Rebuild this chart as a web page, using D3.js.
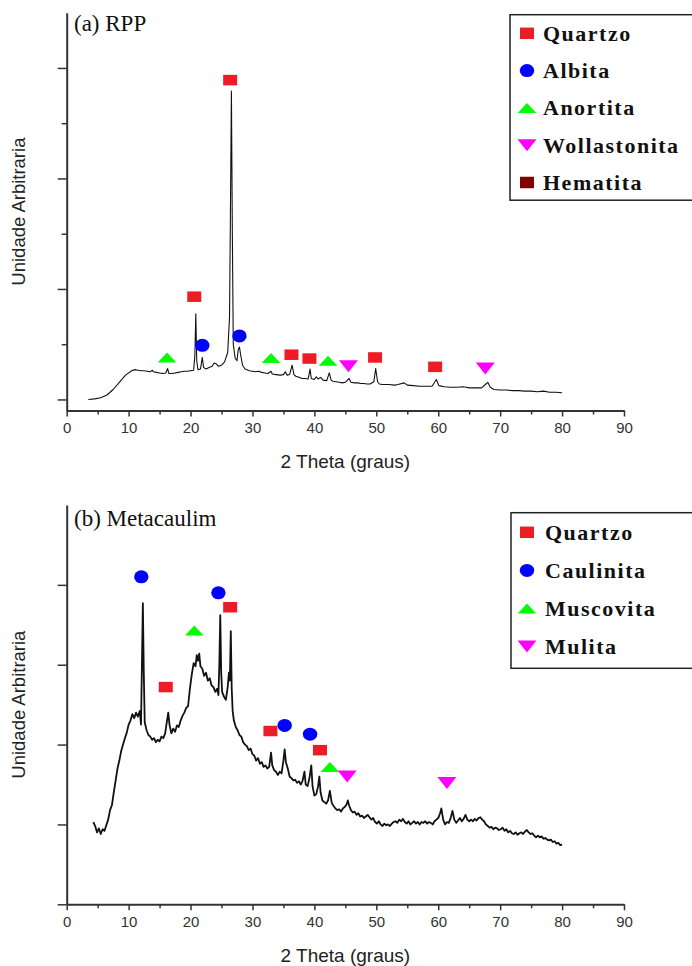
<!DOCTYPE html>
<html>
<head>
<meta charset="utf-8">
<script src="https://cdn.jsdelivr.net/npm/d3@7/dist/d3.min.js"></script>
<style>
body { margin: 0; background: #fff; }
svg { display: block; }
.tick text { font-family: "Liberation Sans", Arial, sans-serif; }
</style>
</head>
<body>
<div id="chart"></div>
<script>
// x ticks (2 theta, degrees)
var xTicks = [0, 10, 20, 30, 40, 50, 60, 70, 80, 90];
var xMinor = [5, 15, 25, 35, 45, 55, 65, 75, 85];

// (a) RPP pattern: [2theta, intensity (arb.)]
var rppData = [
  [3.5,0.00],[4.5,0.01],[5.5,0.03],[6.5,0.08],[7.5,0.18],[8.5,0.31],[9.5,0.44],[10.5,0.52],
  [11,0.54],[11.5,0.53],[12,0.52],[12.5,0.52],[13,0.51],[13.5,0.50],[13.8,0.53],[14,0.50],
  [14.5,0.49],[15,0.48],[15.5,0.47],[16,0.48],[16.3,0.56],[16.5,0.47],[17,0.47],[17.5,0.48],
  [18,0.49],[18.5,0.50],[19,0.51],[19.5,0.51],[20,0.52],[20.5,0.53],[20.7,0.80],[20.85,1.55],
  [21.0,0.70],[21.2,0.54],[21.6,0.55],[21.9,0.76],[22.1,0.58],[22.5,0.55],[23,0.58],[23.5,0.60],
  [23.8,0.66],[24.2,0.64],[24.5,0.60],[25,0.62],[25.5,0.68],[26.0,0.85],[26.3,1.5],[26.45,3.5],
  [26.6,5.58],[26.75,3.0],[26.9,1.0],[27.2,0.75],[27.5,0.70],[27.7,0.90],[27.9,0.95],[28.1,0.80],
  [28.4,0.62],[28.8,0.55],[29.5,0.52],[30,0.51],[30.5,0.50],[31,0.51],[31.5,0.49],[32,0.48],
  [32.5,0.47],[33,0.51],[33.2,0.46],[33.8,0.45],[34.5,0.44],[35,0.45],[35.3,0.50],[35.6,0.44],
  [36,0.45],[36.4,0.62],[36.7,0.45],[37,0.42],[37.5,0.40],[38,0.38],[38.5,0.38],[39,0.37],
  [39.3,0.55],[39.5,0.38],[40,0.36],[40.3,0.41],[40.6,0.37],[41,0.40],[41.4,0.35],[42,0.34],
  [42.4,0.48],[42.7,0.35],[43,0.33],[43.5,0.32],[44,0.31],[44.5,0.30],[45,0.31],[45.6,0.38],
  [45.9,0.31],[46.5,0.30],[47,0.30],[47.5,0.29],[48,0.29],[48.5,0.28],[49,0.28],[49.6,0.32],
  [49.9,0.56],[50.2,0.32],[50.5,0.28],[51,0.27],[52,0.27],[53,0.26],[53.5,0.27],[54.5,0.30],
  [55,0.26],[56,0.25],[57,0.24],[58,0.24],[59,0.24],[59.7,0.36],[60.1,0.25],[61,0.23],
  [62,0.22],[63,0.22],[64,0.23],[64.5,0.22],[65,0.21],[66,0.21],[67,0.21],[67.7,0.28],
  [68,0.31],[68.4,0.22],[69,0.18],[70,0.17],[71,0.17],[72,0.16],[73,0.16],[74,0.15],
  [75,0.15],[76,0.14],[77,0.15],[78,0.13],[79,0.13],[80,0.12]
];

// (b) Metacaulim pattern
var metaData = [
  [4.3,1.03],[4.6,0.98],[4.9,0.90],[5.2,0.95],[5.5,0.88],[5.8,0.94],[6.1,0.92],[6.4,0.99],
  [6.7,1.06],[7.0,1.18],[7.3,1.24],[7.6,1.40],[7.9,1.55],[8.2,1.70],[8.5,1.80],[8.8,1.92],
  [9.1,2.00],[9.4,2.08],[9.7,2.15],[10.0,2.25],[10.3,2.30],[10.6,2.38],[10.9,2.33],[11.2,2.40],
  [11.5,2.35],[11.8,2.42],[12.0,2.25],[12.15,3.0],[12.3,3.77],[12.45,2.9],[12.6,2.28],[12.9,2.18],
  [13.2,2.12],[13.5,2.10],[13.8,2.06],[14.1,2.08],[14.4,2.03],[14.7,2.06],[15.0,2.04],[15.3,2.10],
  [15.6,2.08],[15.9,2.14],[16.2,2.30],[16.4,2.40],[16.6,2.25],[16.9,2.14],[17.2,2.20],[17.5,2.16],
  [17.8,2.24],[18.1,2.22],[18.4,2.30],[18.7,2.36],[19.0,2.40],[19.3,2.46],[19.6,2.48],[19.9,2.70],
  [20.2,2.88],[20.5,3.02],[20.8,2.98],[21.0,3.12],[21.2,3.05],[21.4,3.14],[21.6,2.98],[21.9,2.95],
  [22.2,2.86],[22.5,2.90],[22.8,2.80],[23.1,2.83],[23.4,2.74],[23.7,2.72],[24.0,2.66],[24.3,2.70],
  [24.5,2.62],[24.65,3.0],[24.8,3.62],[24.95,2.9],[25.1,2.66],[25.4,2.60],[25.7,2.56],[26.0,2.72],
  [26.2,2.90],[26.35,2.80],[26.5,3.42],[26.65,2.70],[26.8,2.42],[27.0,2.30],[27.3,2.22],[27.6,2.18],
  [27.9,2.12],[28.2,2.10],[28.5,2.03],[28.8,2.00],[29.1,1.98],[29.4,1.93],[29.7,1.95],[30.0,1.88],
  [30.3,1.86],[30.6,1.80],[30.9,1.83],[31.2,1.76],[31.5,1.78],[31.8,1.72],[32.1,1.74],[32.4,1.70],
  [32.7,1.72],[33.0,1.90],[33.2,1.74],[33.5,1.68],[33.8,1.66],[34.1,1.62],[34.4,1.66],[34.7,1.64],
  [35.0,1.80],[35.2,1.94],[35.4,1.78],[35.7,1.70],[36.0,1.60],[36.3,1.58],[36.6,1.55],[36.9,1.56],
  [37.2,1.52],[37.5,1.54],[37.8,1.50],[38.1,1.55],[38.4,1.66],[38.6,1.50],[38.9,1.48],[39.2,1.58],
  [39.5,1.74],[39.7,1.48],[40.0,1.36],[40.3,1.38],[40.6,1.48],[40.8,1.60],[41.0,1.40],[41.3,1.30],
  [41.6,1.28],[41.9,1.26],[42.2,1.30],[42.5,1.42],[42.8,1.27],[43.1,1.23],[43.4,1.20],[43.7,1.18],
  [44.0,1.19],[44.3,1.16],[44.6,1.20],[44.9,1.22],[45.2,1.25],[45.4,1.30],[45.6,1.24],[45.9,1.18],
  [46.2,1.15],[46.5,1.16],[46.8,1.12],[47.1,1.14],[47.4,1.10],[47.7,1.11],[48.0,1.08],[48.3,1.10],
  [48.6,1.12],[48.9,1.09],[49.2,1.06],[49.5,1.08],[49.8,1.03],[50.1,1.01],[50.4,1.04],[50.7,1.00],
  [51.0,0.98],[51.3,1.01],[51.6,0.99],[51.9,1.00],[52.2,0.98],[52.5,1.01],[52.8,1.03],[53.1,1.04],
  [53.4,1.02],[53.7,1.06],[54.0,1.04],[54.3,1.07],[54.6,1.03],[54.9,1.01],[55.2,1.04],[55.5,1.00],
  [55.8,1.02],[56.1,1.04],[56.4,1.01],[56.7,1.03],[57.0,1.00],[57.3,1.03],[57.6,1.02],[57.9,1.04],
  [58.2,1.01],[58.5,1.03],[58.8,1.02],[59.1,1.00],[59.4,1.04],[59.7,1.06],[60.0,1.08],[60.3,1.14],
  [60.5,1.20],[60.8,1.06],[61.1,1.00],[61.4,1.03],[61.7,1.02],[62.0,1.08],[62.3,1.17],[62.6,1.06],
  [62.9,1.02],[63.2,1.05],[63.5,1.08],[63.8,1.04],[64.1,1.07],[64.4,1.12],[64.7,1.06],[65.0,1.04],
  [65.3,1.06],[65.6,1.04],[65.9,1.07],[66.2,1.05],[66.5,1.08],[66.8,1.09],[67.1,1.06],[67.4,1.04],
  [67.7,1.00],[68.0,0.98],[68.3,0.96],[68.6,0.97],[68.9,0.94],[69.2,0.96],[69.5,0.95],[69.8,0.93],
  [70.1,0.94],[70.4,0.96],[70.7,0.92],[71.0,0.94],[71.3,0.90],[71.6,0.92],[71.9,0.89],[72.2,0.88],
  [72.5,0.90],[72.8,0.87],[73.1,0.89],[73.4,0.90],[73.7,0.88],[74.0,0.91],[74.3,0.93],[74.6,0.90],
  [74.9,0.88],[75.2,0.89],[75.5,0.86],[75.8,0.84],[76.1,0.86],[76.4,0.84],[76.7,0.85],[77.0,0.82],
  [77.3,0.83],[77.6,0.81],[77.9,0.80],[78.2,0.81],[78.5,0.78],[78.8,0.79],[79.1,0.76],[79.4,0.77],
  [79.7,0.74],[80.0,0.75]
];

// phase markers: [2theta, intensity, phase]
var rppPeaks = [
  [26.4,5.78,"Quartzo"],[20.6,1.86,"Quartzo"],[36.3,0.81,"Quartzo"],[39.2,0.74,"Quartzo"],
  [49.8,0.76,"Quartzo"],[59.5,0.59,"Quartzo"],
  [21.9,0.98,"Albita"],[27.9,1.15,"Albita"],
  [16.2,0.76,"Anortita"],[33.0,0.75,"Anortita"],[42.2,0.70,"Anortita"],
  [45.5,0.60,"Wollastonita"],[67.6,0.56,"Wollastonita"]
];
var metaPeaks = [
  [16.0,2.72,"Quartzo"],[26.4,3.72,"Quartzo"],[32.9,2.17,"Quartzo"],[40.9,1.93,"Quartzo"],
  [12.05,4.10,"Caulinita"],[24.5,3.90,"Caulinita"],[35.2,2.24,"Caulinita"],[39.3,2.13,"Caulinita"],
  [20.6,3.43,"Muscovita"],[42.5,1.72,"Muscovita"],
  [45.3,1.60,"Mulita"],[61.4,1.52,"Mulita"]
];

var rppLegend = ["Quartzo", "Albita", "Anortita", "Wollastonita", "Hematita"];
var metaLegend = ["Quartzo", "Caulinita", "Muscovita", "Mulita"];

var phaseShape = {
  "Quartzo": ["square", "#ee1c24"],
  "Albita": ["circle", "#0000ff"],
  "Caulinita": ["circle", "#0000ff"],
  "Anortita": ["up", "#00ff00"],
  "Muscovita": ["up", "#00ff00"],
  "Wollastonita": ["down", "#ff00ff"],
  "Mulita": ["down", "#ff00ff"],
  "Hematita": ["square", "#800000"]
};

var width = 692, height = 966;
var svg = d3.select("#chart").append("svg")
  .attr("width", width)
  .attr("height", height);

drawPanel({
  title: "(a) RPP", titleY: 31,
  yDomain: [-0.2, 7.0], yRange: [410.5, 12.7],
  yTicks: [0, 2, 4, 6], yMinor: [1, 3, 5],
  data: rppData, peaks: rppPeaks, strokeW: 1.1,
  legend: rppLegend, legendBox: [510, 14.7, 200, 185.5], legendY0: 33.3, legendStep: 37.3,
  legendX: 527, legendTextX: 543
});

drawPanel({
  title: "(b) Metacaulim", titleY: 526,
  yDomain: [0, 5], yRange: [904.3, 505],
  yTicks: [0, 1, 2, 3, 4], yMinor: [],
  data: metaData, peaks: metaPeaks, strokeW: 1.8,
  legend: metaLegend, legendBox: [511, 512.7, 200, 155.6], legendY0: 532.3, legendStep: 38.1,
  legendX: 527, legendTextX: 545
});

function drawPanel(p) {
  var g = svg.append("g");
  var x = d3.scaleLinear().domain([0, 90]).range([66.7, 624]);
  var y = d3.scaleLinear().domain(p.yDomain).range(p.yRange);
  var axisY = p.yRange[0];

  // curve
  var line = d3.line()
    .x(function(d) { return x(d[0]); })
    .y(function(d) { return y(d[1]); });
  g.append("path")
    .datum(p.data)
    .attr("fill", "none")
    .attr("stroke", "#111")
    .attr("stroke-width", p.strokeW)
    .attr("stroke-linejoin", "round")
    .attr("d", line);

  // x axis
  var xa = g.append("g")
    .attr("transform", "translate(0," + axisY + ")")
    .call(d3.axisBottom(x).tickValues(xTicks).tickSize(6).tickPadding(6).tickSizeOuter(0));
  xa.selectAll("text").attr("font-size", 15).attr("fill", "#333");
  g.append("g")
    .attr("transform", "translate(0," + axisY + ")")
    .call(d3.axisBottom(x).tickValues(xMinor).tickSize(4).tickFormat("").tickSizeOuter(0))
    .select(".domain").remove();

  // y axis (no labels)
  g.append("g")
    .attr("transform", "translate(66.7,0)")
    .call(d3.axisLeft(y).tickValues(p.yTicks).tickSize(9).tickFormat("").tickSizeOuter(0));
  g.append("g")
    .attr("transform", "translate(66.7,0)")
    .call(d3.axisLeft(y).tickValues(p.yMinor).tickSize(5).tickFormat("").tickSizeOuter(0))
    .select(".domain").remove();

  g.selectAll(".domain").attr("stroke", "#333").attr("stroke-width", 2);
  g.selectAll(".tick line").attr("stroke", "#333").attr("stroke-width", 1.5);

  // axis labels
  g.append("text")
    .attr("x", x(45))
    .attr("y", axisY + 57.5)
    .attr("text-anchor", "middle")
    .attr("font-family", "Liberation Sans, Arial, sans-serif")
    .attr("font-size", 19)
    .attr("fill", "#222")
    .text("2 Theta (graus)");
  var midY = (p.yRange[0] + p.yRange[1]) / 2;
  g.append("text")
    .attr("transform", "translate(25," + midY + ") rotate(-90)")
    .attr("text-anchor", "middle")
    .attr("font-family", "Liberation Sans, Arial, sans-serif")
    .attr("font-size", 18.5)
    .attr("fill", "#222")
    .text("Unidade Arbitraria");

  g.append("text")
    .attr("x", 74)
    .attr("y", p.titleY)
    .attr("font-family", "Liberation Serif, Times New Roman, serif")
    .attr("font-size", 23)
    .attr("fill", "#111")
    .text(p.title);

  // phase markers
  p.peaks.forEach(function(d) {
    drawMarker(g, phaseShape[d[2]][0], x(d[0]), y(d[1]), phaseShape[d[2]][1], false);
  });

  // legend
  var b = p.legendBox;
  g.append("rect")
    .attr("x", b[0]).attr("y", b[1])
    .attr("width", b[2]).attr("height", b[3])
    .attr("fill", "#fff")
    .attr("stroke", "#222")
    .attr("stroke-width", 1.5);
  p.legend.forEach(function(name, i) {
    var cy = p.legendY0 + i * p.legendStep;
    drawMarker(g, phaseShape[name][0], p.legendX, cy, phaseShape[name][1], true);
    g.append("text")
      .attr("x", p.legendTextX)
      .attr("y", cy + 7.5)
      .attr("font-family", "Liberation Serif, Times New Roman, serif")
      .attr("font-weight", "bold")
      .attr("font-size", 22)
      .attr("letter-spacing", 1.5)
      .attr("fill", "#111")
      .text(name);
  });
}

function drawMarker(g, shape, cx, cy, color, inLegend) {
  if (shape == "square") {
    var w = 14, h = inLegend ? 11.5 : 10.5;
    g.append("rect")
      .attr("x", cx - w / 2).attr("y", cy - h / 2)
      .attr("width", w).attr("height", h)
      .attr("fill", color);
  } else if (shape == "circle") {
    g.append("ellipse")
      .attr("cx", cx).attr("cy", cy)
      .attr("rx", 7.2).attr("ry", 6.5)
      .attr("fill", color);
  } else if (shape == "up") {
    var hw = 9.3, hh = 5;
    g.append("path")
      .attr("d", "M" + (cx - hw) + "," + (cy + hh) + "L" + (cx + hw) + "," + (cy + hh) + "L" + cx + "," + (cy - hh) + "Z")
      .attr("fill", color);
  } else if (shape == "down") {
    var hw2 = 9.5, hh2 = 6;
    g.append("path")
      .attr("d", "M" + (cx - hw2) + "," + (cy - hh2) + "L" + (cx + hw2) + "," + (cy - hh2) + "L" + cx + "," + (cy + hh2) + "Z")
      .attr("fill", color);
  }
}
</script>
</body>
</html>
